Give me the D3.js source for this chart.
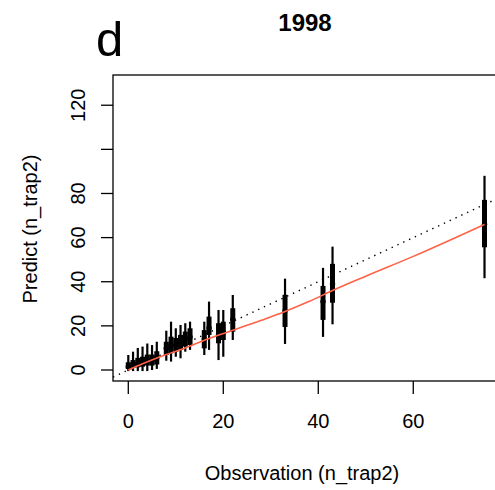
<!DOCTYPE html>
<html>
<head>
<meta charset="utf-8">
<script src="https://cdn.jsdelivr.net/npm/d3@7"></script>
<style>
  body { margin: 0; background: #fff; }
  svg { display: block; font-family: "Liberation Sans", Arial, sans-serif; }
</style>
</head>
<body>
<svg id="chart"></svg>
<script>
// Predicted vs observed n_trap2, year 1998

const width = 495, height = 490;

// observed counts and posterior prediction intervals
const obs  = [0, 1, 2, 3, 4, 5, 6, 8, 9, 10, 11, 12, 13, 16, 17, 19, 20, 22, 33, 41, 43, 75];
const lo95 = [-0.5, -0.5, -0.5, -0.5, -0.5, 0, 0.5, 4.2, 3.8, 6, 5.3, 8.3, 9.1, 6.8, 9.1, 4.5, 6, 13.6, 11.8, 15, 20.7, 41.6];
const lo50 = [0.5, 1, 1.2, 1.5, 2, 2, 2.5, 6.8, 7.6, 8.3, 9.1, 10.6, 11.3, 9.8, 15.9, 12.1, 13.6, 17.4, 19.5, 22.7, 30.5, 55.6];
const med  = [1.5, 2.5, 3, 3.5, 4.5, 4.5, 5.5, 9.8, 11.3, 11, 12, 14, 15, 14, 19, 16, 17, 23, 26.8, 31, 39, 66.1];
const hi50 = [3.5, 4.5, 5.5, 6, 7, 7, 8.5, 12.8, 15.1, 14.5, 15.9, 17.4, 18.9, 18.1, 24.2, 21.2, 21.9, 28, 34.1, 38.1, 48.1, 77.1];
const hi95 = [6.8, 8.3, 10, 10.6, 12, 11.3, 12.8, 17.8, 21.9, 18.9, 20.4, 21.2, 21.9, 21.9, 31, 27.2, 27.2, 34, 41.4, 46.3, 55.9, 88];

// smooth fit (red line)
const fitX = [0, 3, 6.7, 12, 17, 22, 28, 33, 38, 43, 50, 60, 75];
const fitY = [0, 2.8, 6, 10, 14.3, 18, 22.5, 26.5, 31, 36, 42.5, 51.5, 66];

const xTicks = [0, 20, 40, 60];
const yTicks = [0, 20, 40, 60, 80, 100, 120];
const yTickLabels = ["0", "20", "40", "60", "80", "", "120"];

const plot = { left: 113, right: 497, top: 75, bottom: 381 };

const x = d3.scaleLinear().domain([-3.22, 77.63]).range([plot.left, plot.right]);
const y = d3.scaleLinear().domain([-4.99, 133.7]).range([plot.bottom, plot.top]);

const svg = d3.select("#chart")
  .attr("width", width)
  .attr("height", height);

svg.append("rect").attr("width", width).attr("height", height).attr("fill", "#fff");

svg.append("defs").append("clipPath").attr("id", "clip")
  .append("rect")
  .attr("x", plot.left).attr("y", plot.top)
  .attr("width", plot.right - plot.left).attr("height", plot.bottom - plot.top);

const g = svg.append("g").attr("clip-path", "url(#clip)");

// 1:1 reference line
g.append("line")
  .attr("x1", x(-3.22)).attr("y1", y(-3.22))
  .attr("x2", x(77.63)).attr("y2", y(77.63))
  .attr("stroke", "#000")
  .attr("stroke-width", 1.4)
  .attr("stroke-dasharray", "1.4,5")
  .attr("stroke-linecap", "butt");

const idx = d3.range(obs.length);

// 95% intervals
g.selectAll("line.thin").data(idx).join("line")
  .attr("class", "thin")
  .attr("x1", i => x(obs[i])).attr("x2", i => x(obs[i]))
  .attr("y1", i => y(lo95[i])).attr("y2", i => y(hi95[i]))
  .attr("stroke", "#000").attr("stroke-width", 2.2);

// 50% intervals
g.selectAll("line.thick").data(idx).join("line")
  .attr("class", "thick")
  .attr("x1", i => x(obs[i])).attr("x2", i => x(obs[i]))
  .attr("y1", i => y(lo50[i])).attr("y2", i => y(hi50[i]))
  .attr("stroke", "#000").attr("stroke-width", 5);

// medians
g.selectAll("circle.med").data(idx).join("circle")
  .attr("class", "med")
  .attr("cx", i => x(obs[i])).attr("cy", i => y(med[i]))
  .attr("r", 2.7)
  .attr("fill", "#000");

// fitted curve
g.append("path")
  .datum(d3.zip(fitX, fitY))
  .attr("d", d3.line().x(d => x(d[0])).y(d => y(d[1])).curve(d3.curveMonotoneX))
  .attr("fill", "none")
  .attr("stroke", "#FF6347")
  .attr("stroke-width", 1.6);

// box
svg.append("rect")
  .attr("x", plot.left).attr("y", plot.top)
  .attr("width", plot.right - plot.left).attr("height", plot.bottom - plot.top)
  .attr("fill", "none").attr("stroke", "#000").attr("stroke-width", 1.3);

// x axis
const xa = svg.append("g");
xa.selectAll("line").data(xTicks).join("line")
  .attr("x1", d => x(d)).attr("x2", d => x(d))
  .attr("y1", plot.bottom).attr("y2", plot.bottom + 13)
  .attr("stroke", "#000").attr("stroke-width", 1.3);
xa.selectAll("text").data(xTicks).join("text")
  .attr("x", d => x(d)).attr("y", 428)
  .attr("text-anchor", "middle")
  .attr("font-size", 20)
  .text(d => d);

// y axis
const ya = svg.append("g");
ya.selectAll("line").data(yTicks).join("line")
  .attr("x1", plot.left - 12).attr("x2", plot.left)
  .attr("y1", d => y(d)).attr("y2", d => y(d))
  .attr("stroke", "#000").attr("stroke-width", 1.3);
ya.selectAll("text").data(yTicks).join("text")
  .attr("transform", d => `translate(85,${y(d)}) rotate(-90)`)
  .attr("text-anchor", "middle")
  .attr("font-size", 20)
  .text((d, i) => yTickLabels[i]);

// titles
svg.append("text")
  .attr("x", 302).attr("y", 480)
  .attr("text-anchor", "middle")
  .attr("font-size", 20)
  .text("Observation (n_trap2)");

svg.append("text")
  .attr("transform", `translate(37,229) rotate(-90)`)
  .attr("text-anchor", "middle")
  .attr("font-size", 20)
  .text("Predict (n_trap2)");

svg.append("text")
  .attr("x", 305).attr("y", 31)
  .attr("text-anchor", "middle")
  .attr("font-size", 24)
  .attr("font-weight", "bold")
  .text("1998");

svg.append("text")
  .attr("x", 96).attr("y", 56)
  .attr("font-size", 49)
  .text("d");
</script>
</body>
</html>
